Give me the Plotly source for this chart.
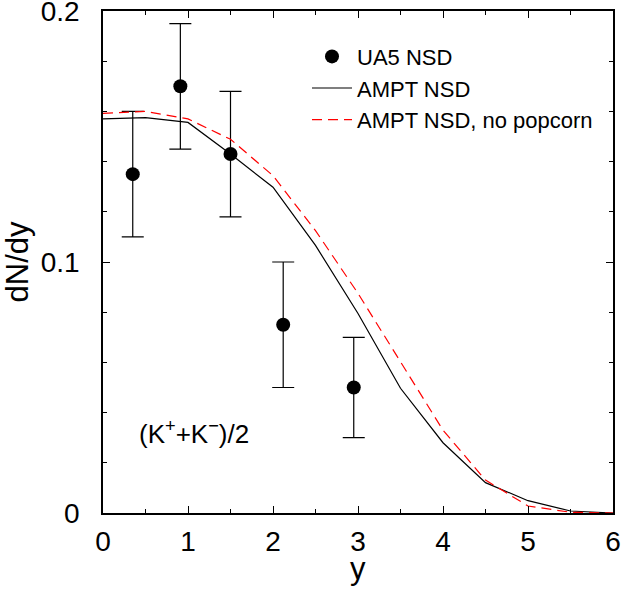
import plotly.graph_objects as go

# UA5 NSD data
ua5_x = [0.35, 0.91, 1.5, 2.12, 2.95]
ua5_y = [0.135, 0.170, 0.143, 0.075, 0.050]
ua5_err = [0.025, 0.025, 0.025, 0.025, 0.020]

# AMPT curves
ampt_x = [0.0, 0.5, 1.0, 1.5, 2.0, 2.5, 3.0, 3.5, 4.0, 4.5, 5.0, 5.5, 6.0]
ampt_nsd = [0.157, 0.1575, 0.1556, 0.143, 0.1298, 0.1066, 0.0795, 0.0497, 0.0280,
            0.0121, 0.0049, 0.0008, 0.0]
ampt_nopop = [0.1592, 0.1600, 0.1570, 0.1489, 0.1344, 0.1125, 0.0875, 0.0603, 0.0330,
              0.0131, 0.0028, 0.0003, 0.0]

x_ticks = [0, 1, 2, 3, 4, 5, 6]
y_ticks = [0, 0.1, 0.2]
y_ticklabels = ["0", "0.1", "0.2"]

FONT = "Liberation Sans, Arial, sans-serif"

fig = go.Figure()
fig.add_trace(go.Scatter(
    x=ua5_x, y=ua5_y, mode="markers", name="UA5 NSD",
    marker=dict(color="black", size=14, symbol="circle"),
    error_y=dict(type="data", array=ua5_err, color="black", thickness=1.2, width=11),
))
fig.add_trace(go.Scatter(
    x=ampt_x, y=ampt_nsd, mode="lines", name="AMPT NSD",
    line=dict(color="black", width=1.2),
))
fig.add_trace(go.Scatter(
    x=ampt_x, y=ampt_nopop, mode="lines", name="AMPT NSD, no popcorn",
    line=dict(color="red", width=1.2, dash="10px,6px"),
))

fig.add_annotation(
    x=0.4, y=0.032, xref="x", yref="y", xanchor="left", yanchor="middle",
    text="(K<sup>+</sup>+K<sup>−</sup>)/2", showarrow=False,
    font=dict(family=FONT, size=26, color="black"),
)
# x-axis title
fig.add_annotation(
    x=0.5, y=0, xref="paper", yref="paper", xanchor="center", yanchor="top",
    yshift=-36, text="y", showarrow=False,
    font=dict(family=FONT, size=31, color="black"),
)

axis_common = dict(
    showline=True, linecolor="black", linewidth=1.5, mirror="allticks",
    ticks="inside", ticklen=7, tickwidth=1.2, tickcolor="black",
    showgrid=False, zeroline=False, automargin=False,
    ticklabeloverflow="allow",
    tickfont=dict(family=FONT, size=28, color="black"),
)

fig.update_xaxes(
    range=[0, 6], tickmode="array", tickvals=x_ticks,
    ticktext=[str(v) for v in x_ticks],
    minor=dict(tickmode="linear", tick0=0, dtick=0.5, ticks="inside", ticklen=4,
               tickcolor="black", tickwidth=1.2),
    ticklabelstandoff=3,
    **axis_common,
)
fig.update_yaxes(
    range=[0, 0.2], tickmode="array", tickvals=y_ticks, ticktext=y_ticklabels,
    minor=dict(tickmode="linear", tick0=0, dtick=0.02, ticks="inside", ticklen=4,
               tickcolor="black", tickwidth=1.2),
    title=dict(text="dN/dy", font=dict(family=FONT, size=31, color="black"), standoff=12),
    ticklabelstandoff=16,
    **axis_common,
)

fig.update_layout(
    width=621, height=592,
    margin=dict(l=103, r=8, t=11, b=79),
    plot_bgcolor="white", paper_bgcolor="white",
    font=dict(family=FONT, color="black"),
    showlegend=True,
    legend=dict(
        x=0.40, y=0.951, xanchor="left", yanchor="top",
        bgcolor="rgba(0,0,0,0)", borderwidth=0,
        font=dict(family=FONT, size=22, color="black"),
        itemwidth=40, tracegroupgap=0,
    ),
)

fig.write_html(
    "out.html",
    config={"displayModeBar": False},
    post_script="document.body.style.margin='0';document.body.style.overflow='hidden';",
)
